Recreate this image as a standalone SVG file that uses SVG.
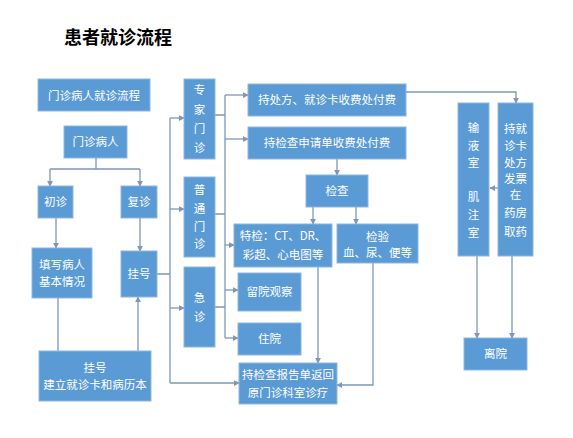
<svg xmlns="http://www.w3.org/2000/svg" width="573" height="438" viewBox="0 0 573 438">
<style>
.b{fill:#5B9BD5;stroke:#8DB6E2;stroke-width:1}
.t{fill:#fff;font-family:"Noto Sans CJK SC","Liberation Sans",sans-serif;font-size:11.5px;text-anchor:middle}
.ln{fill:none;stroke:#7E97B8;stroke-width:1.3}
.a{marker-end:url(#ar)}
</style>
<defs>
<marker id="ar" viewBox="0 0 8 8" refX="7" refY="4" markerWidth="6" markerHeight="6" markerUnits="userSpaceOnUse" orient="auto"><path d="M0,0L8,4L0,8Z" fill="#7E97B8"/></marker>
</defs>
<rect width="573" height="438" fill="#fff"/>
<text x="64" y="44" font-family="'Noto Sans CJK SC',sans-serif" font-size="18" font-weight="bold" fill="#000">患者就诊流程</text>

<g id="connectors">
<path class="ln" d="M96,158V169M50,169H140"/>
<path class="ln a" d="M50,169V186"/>
<path class="ln a" d="M140,169V186"/>
<path class="ln a" d="M56,218V248"/>
<path class="ln a" d="M140,218V251"/>
<path class="ln" d="M58,298V351"/>
<path class="ln a" d="M138,351V297"/>
<path class="ln" d="M157,274H170M170,118V383"/>
<path class="ln a" d="M170,118H184"/>
<path class="ln a" d="M170,209H184"/>
<path class="ln a" d="M170,308H184"/>
<path class="ln a" d="M170,383H239"/>
<path class="ln" d="M215,115H225M215,214H225M215,307H225M225,95V338"/>
<path class="ln a" d="M225,95H248"/>
<path class="ln a" d="M225,139H248"/>
<path class="ln a" d="M225,245H234"/>
<path class="ln a" d="M225,290H238"/>
<path class="ln a" d="M225,338H238"/>
<path class="ln a" d="M337,159V175"/>
<path class="ln a" d="M313,207V224"/>
<path class="ln a" d="M356,207V224"/>
<path class="ln a" d="M318,267V363"/>
<path class="ln a" d="M373,263V385H337"/>
<path class="ln a" d="M406,92H516V103"/>
<path class="ln a" d="M498,188H490"/>
<path class="ln a" d="M477,256V338"/>
<path class="ln a" d="M512,256V338"/>
</g>

<g id="n-title"><rect class="b" x="38" y="79" width="112" height="32"/><text class="t" x="94" y="100" font-size="13">门诊病人就诊流程</text></g>
<g id="n-patient"><rect class="b" x="64" y="126" width="63" height="32"/><text class="t" x="95.5" y="146">门诊病人</text></g>
<g id="n-first"><rect class="b" x="38" y="186" width="35" height="32"/><text class="t" x="55.5" y="206">初诊</text></g>
<g id="n-revisit"><rect class="b" x="121" y="186" width="36" height="32"/><text class="t" x="139" y="206">复诊</text></g>
<g id="n-fill"><rect class="b" x="32" y="248" width="60" height="50"/><text class="t" x="62" y="269">填写病人</text><text class="t" x="62" y="286">基本情况</text></g>
<g id="n-reg"><rect class="b" x="121" y="251" width="36" height="46"/><text class="t" x="139" y="278">挂号</text></g>
<g id="n-regcard"><rect class="b" x="39" y="351" width="112" height="50"/><text class="t" x="95" y="372">挂号</text><text class="t" x="95" y="389">建立就诊卡和病历本</text></g>
<g id="n-expert"><rect class="b" x="184" y="79" width="31" height="80"/><text class="t" x="199.5" y="94">专</text><text class="t" x="199.5" y="114">家</text><text class="t" x="199.5" y="133">门</text><text class="t" x="199.5" y="152">诊</text></g>
<g id="n-general"><rect class="b" x="184" y="177" width="31" height="80"/><text class="t" x="199.5" y="194">普</text><text class="t" x="199.5" y="213">通</text><text class="t" x="199.5" y="231">门</text><text class="t" x="199.5" y="248">诊</text></g>
<g id="n-emerg"><rect class="b" x="184" y="267" width="31" height="80"/><text class="t" x="199.5" y="302">急</text><text class="t" x="199.5" y="321">诊</text></g>
<g id="n-pay1"><rect class="b" x="248" y="84" width="158" height="32"/><text class="t" x="327" y="104">持处方、就诊卡收费处付费</text></g>
<g id="n-pay2"><rect class="b" x="248" y="127" width="158" height="32"/><text class="t" x="327" y="147">持检查申请单收费处付费</text></g>
<g id="n-exam"><rect class="b" x="306" y="175" width="62" height="32"/><text class="t" x="337" y="195">检查</text></g>
<g id="n-special"><rect class="b" x="234" y="224" width="98" height="43"/><text class="t" x="283" y="240" font-size="11">特检：CT、DR、</text><text class="t" x="283" y="259" font-size="11">彩超、心电图等</text></g>
<g id="n-lab"><rect class="b" x="337" y="224" width="81" height="39"/><text class="t" x="377.5" y="241">检验</text><text class="t" x="377.5" y="257">血、尿、便等</text></g>
<g id="n-observe"><rect class="b" x="238" y="273" width="63" height="38"/><text class="t" x="269.5" y="296">留院观察</text></g>
<g id="n-admit"><rect class="b" x="238" y="323" width="63" height="32"/><text class="t" x="269.5" y="343">住院</text></g>
<g id="n-return"><rect class="b" x="239" y="363" width="98" height="41"/><text class="t" x="288" y="379">持检查报告单返回</text><text class="t" x="288" y="397">原门诊科室诊疗</text></g>
<g id="n-infusion"><rect class="b" x="458" y="103" width="31" height="153"/><text class="t" x="473.5" y="132">输</text><text class="t" x="473.5" y="150">液</text><text class="t" x="473.5" y="167">室</text><text class="t" x="473.5" y="201">肌</text><text class="t" x="473.5" y="219">注</text><text class="t" x="473.5" y="237">室</text></g>
<g id="n-pharmacy"><rect class="b" x="498" y="103" width="35" height="153"/><text class="t" x="515.5" y="133">持就</text><text class="t" x="515.5" y="150">诊卡</text><text class="t" x="515.5" y="167">处方</text><text class="t" x="515.5" y="183">发票</text><text class="t" x="515.5" y="199">在</text><text class="t" x="515.5" y="217">药房</text><text class="t" x="515.5" y="236">取药</text></g>
<g id="n-leave"><rect class="b" x="464" y="338" width="63" height="32"/><text class="t" x="495.5" y="358">离院</text></g>
</svg>
